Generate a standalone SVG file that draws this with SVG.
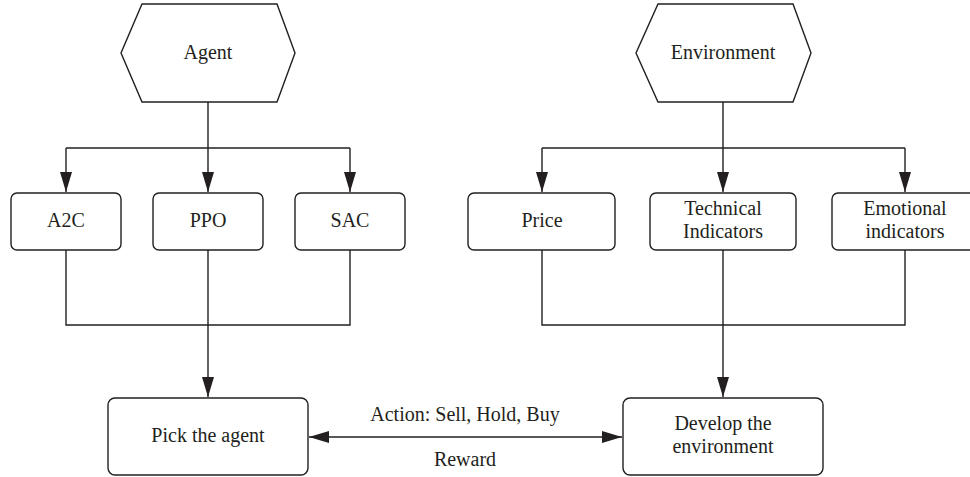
<svg xmlns="http://www.w3.org/2000/svg" width="970" height="477" viewBox="0 0 970 477">
<defs>
<marker id="ah" markerUnits="userSpaceOnUse" markerWidth="20" markerHeight="12" refX="20" refY="6" orient="auto-start-reverse">
<path d="M0,0 L20,6 L0,12 Z" fill="#231f20"/>
</marker>
</defs>
<style>
.n{fill:#fff;stroke:#231f20;stroke-width:1.4}
.t{font-family:'Liberation Serif','DejaVu Serif','Times New Roman',serif;font-size:20px;fill:#231f20;text-anchor:middle}
.c{fill:none;stroke:#231f20;stroke-width:1.4}
</style>
<rect width="970" height="477" fill="#fff"/>
<g id="connectors">
<path class="c" d="M208,102 V148"/>
<path class="c" d="M66,148 H350"/>
<path class="c" d="M66,148 V192" marker-end="url(#ah)"/>
<path class="c" d="M208,148 V192" marker-end="url(#ah)"/>
<path class="c" d="M350,148 V192" marker-end="url(#ah)"/>
<path class="c" d="M723,102 V148"/>
<path class="c" d="M542,148 H905"/>
<path class="c" d="M542,148 V192" marker-end="url(#ah)"/>
<path class="c" d="M723,148 V192" marker-end="url(#ah)"/>
<path class="c" d="M905,148 V192" marker-end="url(#ah)"/>
<path class="c" d="M66,250 V325 H350 V250"/>
<path class="c" d="M208,250 V397" marker-end="url(#ah)"/>
<path class="c" d="M542,250 V325 H905 V250"/>
<path class="c" d="M723,250 V397" marker-end="url(#ah)"/>
<path class="c" d="M309,437 H622" marker-start="url(#ah)" marker-end="url(#ah)"/>
<text class="t" font-family="Liberation Serif, serif" x="465" y="421">Action: Sell, Hold, Buy</text>
<text class="t" font-family="Liberation Serif, serif" x="465" y="466">Reward</text>
</g>
<g id="agent">
<polygon class="n" points="142,4 277,4 295,53 277,102 142,102 121,53"/>
<text class="t" x="208" y="59">Agent</text>
</g>
<g id="environment">
<polygon class="n" points="658,4 793,4 811,53 793,102 658,102 636,53"/>
<text class="t" x="723" y="59">Environment</text>
</g>
<g id="a2c">
<rect class="n" x="11" y="193" width="110" height="57" rx="6"/>
<text class="t" x="66" y="227">A2C</text>
</g>
<g id="ppo">
<rect class="n" x="153" y="193" width="110" height="57" rx="6"/>
<text class="t" x="208" y="227">PPO</text>
</g>
<g id="sac">
<rect class="n" x="295" y="193" width="110" height="57" rx="6"/>
<text class="t" x="350" y="227">SAC</text>
</g>
<g id="price">
<rect class="n" x="468" y="193" width="147" height="57" rx="6"/>
<text class="t" x="542" y="227">Price</text>
</g>
<g id="technical">
<rect class="n" x="650" y="193" width="146" height="57" rx="6"/>
<text class="t" x="723" y="215">Technical</text>
<text class="t" x="723" y="238">Indicators</text>
</g>
<g id="emotional">
<rect class="n" x="832" y="193" width="146" height="57" rx="6"/>
<text class="t" x="905" y="215">Emotional</text>
<text class="t" x="905" y="238">indicators</text>
</g>
<g id="pick">
<rect class="n" x="108" y="398" width="200" height="77" rx="7"/>
<text class="t" x="208" y="442">Pick the agent</text>
</g>
<g id="develop">
<rect class="n" x="623" y="398" width="200" height="77" rx="7"/>
<text class="t" x="723" y="430">Develop the</text>
<text class="t" x="723" y="453">environment</text>
</g>
</svg>
